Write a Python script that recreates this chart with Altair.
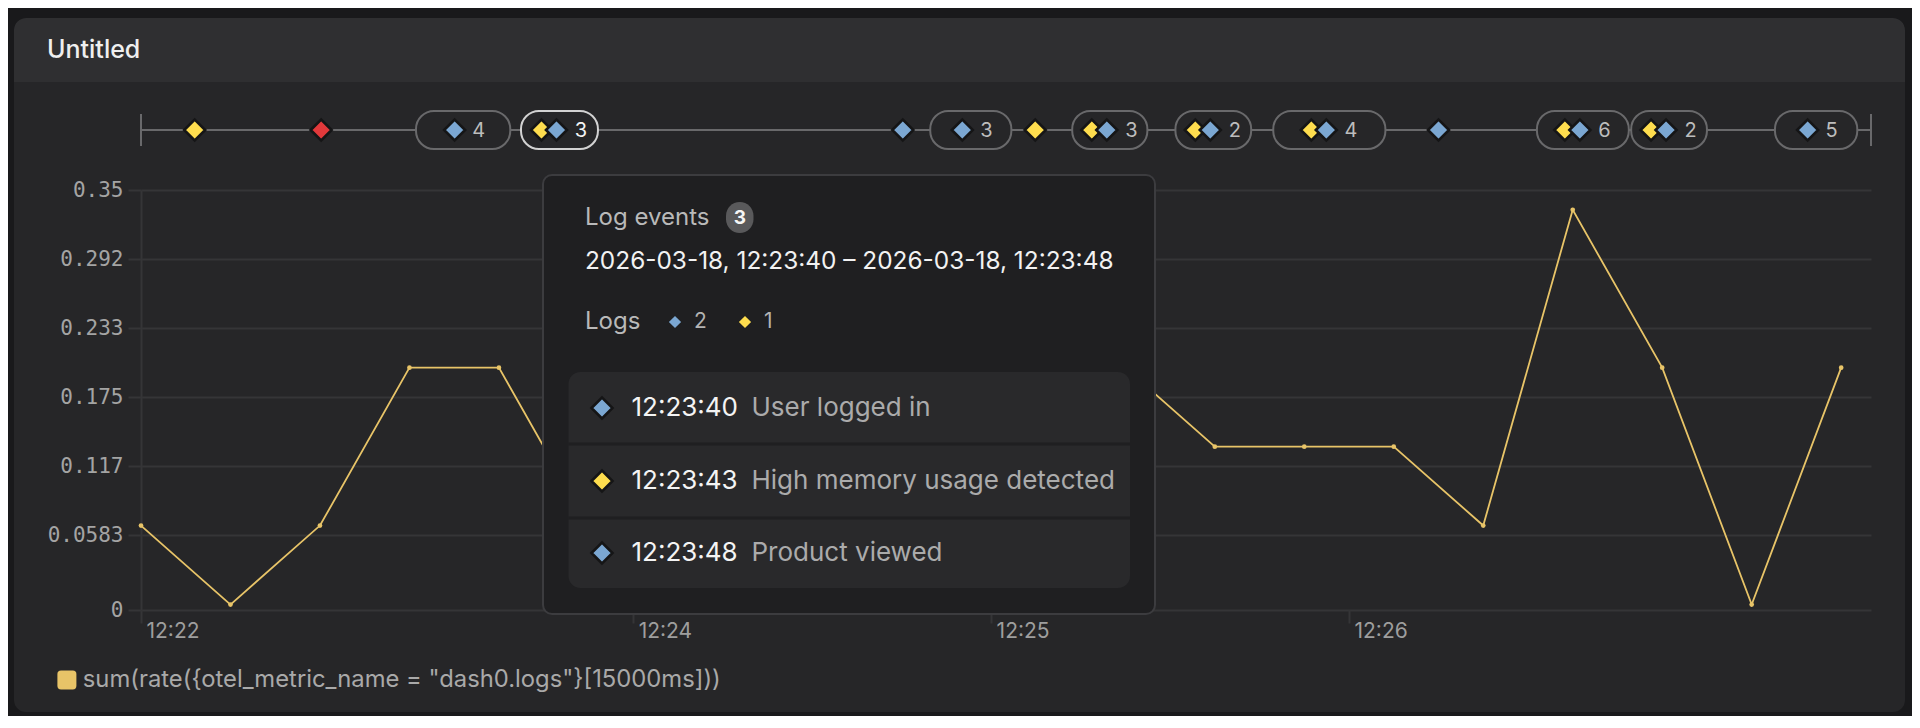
import altair as alt
import pandas as pd

DAY = "2026-03-18"

# ---------------- metric series (15 s rate of log records) ----------------
metric_times = ["12:22:37.5", "12:22:52.5", "12:23:07.5", "12:23:22.5", "12:23:37.5",
                "12:23:52.5", "12:24:07.5", "12:24:22.5", "12:24:37.5", "12:24:52.5",
                "12:25:07.5", "12:25:22.5", "12:25:37.5", "12:25:52.5", "12:26:07.5",
                "12:26:22.5", "12:26:37.5", "12:26:52.5", "12:27:07.5", "12:27:22.5"]
metric_values = [0.0667, 0.0, 0.0667, 0.2, 0.2,
                 0.0667, 0.0, 0.0, 0.0667, 0.2667,
                 0.2, 0.2, 0.1333, 0.1333, 0.1333,
                 0.0667, 0.3333, 0.2, 0.0, 0.2]
series_name = 'sum(rate({otel_metric_name = "dash0.logs"}[15000ms]))'

x_domain = ["12:22:37.5", "12:27:27.5"]
x_tick_times = ["12:22:37.5", "12:24:00", "12:25:00", "12:26:00"]
y_domain = [-0.0046, 0.35]
y_tick_values = [-0.0046, 0.0583, 0.1167, 0.175, 0.2333, 0.2917, 0.35]
y_tick_labels = ["0", "0.0583", "0.117", "0.175", "0.233", "0.292", "0.35"]

# ---------------- log event timeline ----------------
single_times = ["12:22:46.5", "12:23:07.7", "12:24:45.2", "12:25:07.4", "12:26:15.0"]
single_levels = ["warn", "error", "info", "warn", "info"]

pill_start = ["12:23:23.6", "12:23:41.2", "12:24:49.8", "12:25:13.6", "12:25:30.9",
              "12:25:47.3", "12:26:31.5", "12:26:47.3", "12:27:11.4"]
pill_end = ["12:23:39.4", "12:23:54.1", "12:25:03.4", "12:25:26.2", "12:25:43.6",
            "12:26:06.1", "12:26:46.9", "12:27:00.0", "12:27:25.2"]
pill_count = [4, 3, 3, 3, 2, 4, 6, 2, 5]
pill_has_warn = [0, 1, 0, 1, 1, 1, 1, 1, 0]
pill_active = [0, 1, 0, 0, 0, 0, 0, 0, 0]

level_names = ["info", "warn", "error"]
level_colors = ["#7ba7d2", "#fedd4e", "#e2393b"]

# ---------------- hovered bucket details ----------------
tip_title = "Log events"
tip_range = "2026-03-18, 12:23:40 \u2013 2026-03-18, 12:23:48"
tip_times = ["12:23:40", "12:23:43", "12:23:48"]
tip_levels = ["info", "warn", "info"]
tip_messages = ["User logged in", "High memory usage detected", "Product viewed"]

chart_title = "Untitled"

# ---------------- palette ----------------
PAGE = "#19191b"
CARD = "#262628"
HEAD = "#2f2f31"
GRID = "#353537"
LINE = "#e8c468"
DARK = "#151516"
TIP_BG = "#1f1f21"
TIP_LIST = "#29292b"
FONT = "Inter"
MONO = "DejaVu Sans Mono"


def parse_t(t):
    h, m, s = t.split(":")
    s = float(s)
    return int(h), int(m), int(s), int(round((s - int(s)) * 1000))


def iso(t):
    h, m, s, ms = parse_t(t)
    return f"{DAY}T{h:02d}:{m:02d}:{s:02d}.{ms:03d}"


def dt(t):
    h, m, s, ms = parse_t(t)
    return alt.DateTime(year=2026, month=3, date=18, hours=h, minutes=m,
                        seconds=s, milliseconds=ms)


level_scale = alt.Scale(domain=level_names, range=level_colors)

metric_df = pd.DataFrame({"t": [iso(t) for t in metric_times],
                          "v": metric_values,
                          "series": series_name})

singles_df = pd.DataFrame({"t": [iso(t) for t in single_times], "level": single_levels})

ps = pd.to_datetime([iso(t) for t in pill_start])
pe = pd.to_datetime([iso(t) for t in pill_end])
mid = ps + (pe - ps) / 2
pills_df = pd.DataFrame({
    "start": [iso(t) for t in pill_start],
    "end": [iso(t) for t in pill_end],
    "mid": [m.strftime("%Y-%m-%dT%H:%M:%S.") + f"{m.microsecond // 1000:03d}" for m in mid],
    "count": pill_count,
    "warn": pill_has_warn,
    "active": pill_active,
})

one = pd.DataFrame({"k": [0]})


def box(x1, x2, y1, y2, **kw):
    return alt.Chart(one).mark_rect(**kw).encode(
        x=alt.value(x1), x2=alt.value(x2), y=alt.value(y1), y2=alt.value(y2))


def label(text, x, y, **kw):
    base = dict(align="left", baseline="middle", font=FONT)
    base.update(kw)
    return alt.Chart(pd.DataFrame({"s": [text]})).mark_text(**base).encode(
        x=alt.value(x), y=alt.value(y), text="s:N")


# ---------- card chrome ----------
header = box(-127, 1764, -172, -108, fill=HEAD, cornerRadiusTopLeft=12, cornerRadiusTopRight=12)
outline = box(-147, 1784, -192, 542, fill="#000000", fillOpacity=0, stroke=PAGE,
              strokeWidth=40, cornerRadius=32)
title = label(chart_title, -94, -140, fontSize=25, fontWeight=500, color="#efefef")

# ---------- timeline ----------
tl_df = pd.DataFrame({"a": [iso(x_domain[0])], "b": [iso(x_domain[1])]})
tl_line = alt.Chart(tl_df).mark_rule(color="#69696b", strokeWidth=2).encode(
    x="a:T", x2="b:T", y=alt.value(-60))
tl_ends = alt.Chart(pd.DataFrame({"t": [iso(x) for x in x_domain]})).mark_rule(
    color="#69696b", strokeWidth=2).encode(
    x="t:T", y=alt.value(-76), y2=alt.value(-44))

pill_rects = alt.Chart(pills_df).transform_calculate(
    border="datum.active == 1 ? '#d2d2d2' : '#69696b'"
).mark_rect(cornerRadius=18, strokeWidth=2, fill=CARD).encode(
    x="start:T", x2="end:T",
    y=alt.value(-79), y2=alt.value(-41),
    stroke=alt.Stroke("border:N", scale=None))

diamond = dict(shape="diamond", filled=True, size=441, stroke=DARK, strokeWidth=2.6, opacity=1)

single_marks = alt.Chart(singles_df).mark_point(**diamond).encode(
    x="t:T", y=alt.value(-60),
    fill=alt.Fill("level:N", scale=level_scale, legend=None))

warn_pills = alt.Chart(pills_df).transform_filter("datum.warn == 1")
info_pills = alt.Chart(pills_df).transform_filter("datum.warn == 0")

pill_yellow = warn_pills.mark_point(xOffset=-18, **diamond).encode(
    x="mid:T", y=alt.value(-60), fill=alt.value(level_colors[1]))
pill_blue_a = warn_pills.mark_point(xOffset=-3, **diamond).encode(
    x="mid:T", y=alt.value(-60), fill=alt.value(level_colors[0]))
pill_blue_b = info_pills.mark_point(xOffset=-8.5, **diamond).encode(
    x="mid:T", y=alt.value(-60), fill=alt.value(level_colors[0]))

num_style = dict(align="center", baseline="middle", font=FONT, fontSize=20)
pill_num_a = warn_pills.transform_calculate(
    c="datum.active == 1 ? '#f4f4f4' : '#bdbdbd'").mark_text(xOffset=21.5, **num_style).encode(
    x="mid:T", y=alt.value(-59), text="count:Q",
    color=alt.Color("c:N", scale=None))
pill_num_b = info_pills.transform_calculate(
    c="datum.active == 1 ? '#f4f4f4' : '#bdbdbd'").mark_text(xOffset=15.5, **num_style).encode(
    x="mid:T", y=alt.value(-59), text="count:Q",
    color=alt.Color("c:N", scale=None))

# ---------- metric line ----------
label_expr = " : ".join(
    f"datum.value == {v} ? '{l}'" for v, l in zip(y_tick_values, y_tick_labels)) + " : ''"

x_enc = alt.X("t:T",
              scale=alt.Scale(domain=[dt(x_domain[0]), dt(x_domain[1])], nice=False),
              axis=alt.Axis(values=[dt(t) for t in x_tick_times], format="%H:%M",
                            grid=False, domain=False, ticks=True, tickColor=GRID,
                            tickSize=13, tickWidth=2, labelAlign="left", labelOffset=5,
                            labelFont=FONT, labelFontSize=21, labelColor="#9e9e9e",
                            labelPadding=8, labelBaseline="middle", labelFlush=False,
                            labelOverlap=False, title=None))
y_enc = alt.Y("v:Q",
              scale=alt.Scale(domain=y_domain, nice=False, zero=False),
              axis=alt.Axis(values=y_tick_values, labelExpr=label_expr, grid=True,
                            gridColor=GRID, gridWidth=2, tickColor=GRID, tickSize=13,
                            tickWidth=2, domain=True, domainColor=GRID, domainWidth=2,
                            labelFont=MONO, labelFontSize=21, labelColor="#a4a4a4",
                            labelPadding=5, labelOverlap=False, title=None))

line = alt.Chart(metric_df).mark_line(color=LINE, strokeWidth=1.8).encode(x=x_enc, y=y_enc)

ROUNDED = ("M-1,-0.62 Q-1,-1 -0.62,-1 L0.62,-1 Q1,-1 1,-0.62 L1,0.62 "
           "Q1,1 0.62,1 L-0.62,1 Q-1,1 -1,0.62 Z")
points = alt.Chart(metric_df).mark_circle(size=22, opacity=1).encode(
    x="t:T", y="v:Q",
    color=alt.Color("series:N", scale=alt.Scale(range=[LINE]),
                    legend=alt.Legend(orient="none", legendX=-86, legendY=478, title=None,
                                      symbolType=ROUNDED, symbolSize=361, symbolOpacity=1,
                                      symbolStrokeWidth=0, labelFont=FONT, labelFontSize=23.8,
                                      labelColor="#a9a9a9", labelLimit=0, padding=0,
                                      labelOffset=4)))

# ---------- hover tooltip ----------
tip_box = box(402, 1014, -15, 424, fill=TIP_BG, stroke="#3c3c3f", strokeWidth=2, cornerRadius=9)
tip_head = label(tip_title, 444, 28, fontSize=24, color="#b9b9b9")
badge = box(585, 612.5, 12, 43, fill="#59595b", cornerRadius=14)
badge_txt = label(str(len(tip_times)), 598.75, 28, align="center", fontSize=19,
                  fontWeight="bold", color="#f5f5f5")
tip_rng = label(tip_range, 444, 72, fontSize=24.4, color="#f2f2f2")
logs_lbl = label("Logs", 444, 132, fontSize=24, color="#b9b9b9")

layers_tip = [tip_box, tip_head, badge, badge_txt, tip_rng, logs_lbl]

sum_x = [534, 604]
for i, lev in enumerate(["info", "warn"]):
    n = sum(1 for l in tip_levels if l == lev)
    d = alt.Chart(pd.DataFrame({"level": [lev]})).mark_point(
        shape="diamond", filled=True, size=150, opacity=1).encode(
        x=alt.value(sum_x[i]), y=alt.value(132),
        fill=alt.Fill("level:N", scale=level_scale, legend=None))
    layers_tip += [d, label(str(n), sum_x[i] + 19, 132, fontSize=21, color="#b3b3b3")]

layers_tip.append(box(427.5, 989, 182, 398, fill=TIP_LIST, cornerRadius=12))
for ysep in [254, 328]:
    layers_tip.append(alt.Chart(one).mark_rule(color=TIP_BG, strokeWidth=3).encode(
        x=alt.value(427.5), x2=alt.value(989), y=alt.value(ysep)))

row_y = [218, 291, 363]
for i, (tt, lev, msg) in enumerate(zip(tip_times, tip_levels, tip_messages)):
    d = alt.Chart(pd.DataFrame({"level": [lev]})).mark_point(**diamond).encode(
        x=alt.value(461), y=alt.value(row_y[i]),
        fill=alt.Fill("level:N", scale=level_scale, legend=None))
    layers_tip += [d,
                   label(tt, 490.5, row_y[i], fontSize=26, color="#f4f4f4"),
                   label(msg, 610.5, row_y[i], fontSize=26, color="#ababab")]

chart = alt.layer(
    line, points,
    header, outline, title,
    tl_line, tl_ends, pill_rects, single_marks,
    pill_yellow, pill_blue_a, pill_blue_b, pill_num_a, pill_num_b,
    *layers_tip,
).properties(
    width=1730, height=420,
    autosize=alt.AutoSizeParams(type="none"),
    padding={"left": 133, "top": 182, "right": 41, "bottom": 106},
).configure(background=CARD).configure_view(strokeWidth=0)

chart.save("out.html", embed_options={"renderer": "svg", "actions": False})
